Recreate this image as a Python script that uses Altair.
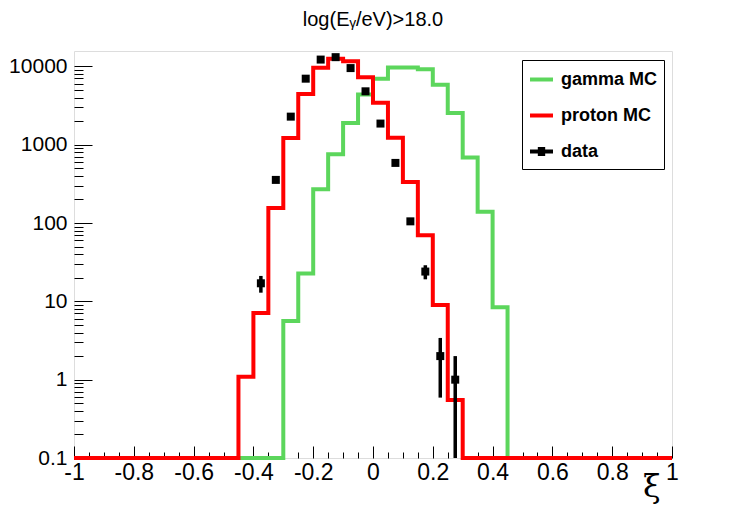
import altair as alt
import pandas as pd

# ---- data ----
bin_edges = [-1.0, -0.95, -0.9, -0.85, -0.8, -0.75, -0.7, -0.65, -0.6, -0.55,
             -0.5, -0.45, -0.4, -0.35, -0.3, -0.25, -0.2, -0.15, -0.1, -0.05,
             0.0, 0.05, 0.1, 0.15, 0.2, 0.25, 0.3, 0.35, 0.4, 0.45,
             0.5, 0.55, 0.6, 0.65, 0.7, 0.75, 0.8, 0.85, 0.9, 0.95, 1.0]

gamma_counts = [0, 0, 0, 0, 0, 0, 0, 0, 0, 0,
                0, 0, 0, 0, 5.6, 22.7, 270, 755, 1890, 4360,
                6960, 9700, 9700, 9160, 5840, 2540, 684, 139, 8.4, 0,
                0, 0, 0, 0, 0, 0, 0, 0, 0, 0]

proton_counts = [0, 0, 0, 0, 0, 0, 0, 0, 0, 0,
                 0, 1.09, 7.1, 156, 1218, 4433, 9620, 12540, 11580, 7240,
                 3440, 1230, 334, 69.8, 8.95, 0.55, 0, 0, 0, 0,
                 0, 0, 0, 0, 0, 0, 0, 0, 0, 0]

data_x = [-0.375, -0.325, -0.275, -0.225, -0.175, -0.125, -0.075, -0.025,
          0.025, 0.075, 0.125, 0.175, 0.225, 0.275]
data_counts = [17, 355, 2280, 6960, 12200, 13100, 9500, 4800, 1860, 585, 105, 24, 2, 1]
data_err = [4.1, 18.8, 47.7, 83.4, 110, 114, 97, 69, 43, 24, 10, 4.9, 1.41, 1.0]

series_names = ["gamma MC", "proton MC", "data"]
series_colors = ["#5cd65c", "#ff0000", "#000000"]

y_major = [0.1, 1, 10, 100, 1000, 10000]
y_ticks = [m * d for d in [0.1, 1, 10, 100, 1000] for m in range(1, 10)] + [10000]
x_major = [-1, -0.8, -0.6, -0.4, -0.2, 0, 0.2, 0.4, 0.6, 0.8, 1]

W, H = 598, 407
Y_DOMAIN = [0.1, 15700]
FONT = "Liberation Sans"


def hist_frame(counts, name):
    vals = list(counts) + [counts[-1]]
    return pd.DataFrame({"x": bin_edges, "v": vals, "series": name})


gamma_df = hist_frame(gamma_counts, "gamma MC")
proton_df = hist_frame(proton_counts, "proton MC")
data_df = pd.DataFrame({"x": data_x, "n": data_counts, "err": data_err})

xscale = alt.Scale(domain=[-1, 1], nice=False, zero=False)
yscale = alt.Scale(type="log", domain=Y_DOMAIN, nice=False)

x_label_axis = alt.Axis(
    orient="bottom", values=x_major, ticks=False, tickSize=0, domain=False, grid=False,
    labelExpr="toString(round(datum.value*10)/10)", labelFont=FONT, labelFontSize=23,
    labelColor="black", labelPadding=3, labelFlush=False, labelOverlap=False,
    title="ξ", titleFont="DejaVu Serif", titleFontSize=32, titleFontWeight="normal",
    titleColor="black", titleAnchor="end", titleAlign="right", titleBaseline="alphabetic",
    titleX=586, titleY=38,
)
y_label_axis = alt.Axis(
    orient="left", values=y_major, ticks=False, tickSize=0, domain=False, grid=False,
    labelExpr="toString(datum.value)", labelFont=FONT, labelFontSize=21,
    labelColor="black", labelPadding=7, labelFlush=False, labelOverlap=False, title=None,
)
x_tick_axis = alt.Axis(
    orient="top", offset=-H, values=bin_edges, labels=False, domain=False, grid=False,
    tickColor="black", tickWidth=1,
    tickSize={"condition": {"test": "abs(datum.value*5 - round(datum.value*5)) < 1e-6", "value": 12}, "value": 6},
    title=None,
)
y_tick_axis = alt.Axis(
    orient="right", offset=-W, values=y_ticks, labels=False, domain=False, grid=False,
    tickColor="black", tickWidth=1,
    tickSize={"condition": {"test": "abs(log(datum.value)/LN10 - round(log(datum.value)/LN10)) < 1e-6", "value": 18}, "value": 9},
    title=None,
)

gamma_line = alt.Chart(gamma_df).transform_calculate(
    vc="max(datum.v, 0.1)"
).mark_line(interpolate="step-after", strokeWidth=4, color=series_colors[0]).encode(
    x=alt.X("x:Q", scale=xscale, axis=x_label_axis),
    y=alt.Y("vc:Q", scale=yscale, axis=y_label_axis),
)

proton_line = alt.Chart(proton_df).transform_calculate(
    vc="max(datum.v, 0.1)"
).mark_line(interpolate="step-after", strokeWidth=4, color=series_colors[1]).encode(
    x=alt.X("x:Q", scale=xscale, axis=x_tick_axis),
    y=alt.Y("vc:Q", scale=yscale, axis=y_tick_axis),
)

err_bars = alt.Chart(data_df).transform_calculate(
    lo="max(datum.n - datum.err, 0.1)", hi="datum.n + datum.err"
).mark_rule(strokeWidth=3.5, color="black").encode(
    x=alt.X("x:Q", scale=xscale, axis=None),
    y=alt.Y("lo:Q", scale=yscale, axis=None),
    y2="hi:Q",
)

points = alt.Chart(data_df).mark_square(size=64, filled=True, color="black", opacity=1).encode(
    x=alt.X("x:Q", scale=xscale, axis=None),
    y=alt.Y("n:Q", scale=yscale, axis=None),
)

legend_df = pd.DataFrame({"series": series_names, "x": [0, 0, 0], "y": [1, 1, 1]})
line_sym = "M-1,0H1"
data_sym = "M-1,0H1M-0.32,-0.22H0.32M-0.32,0H0.32M-0.32,0.22H0.32"
legend_props = dict(
    orient="none", legendX=448, legendY=9, title=None,
    strokeColor="black", fillColor="white", padding=6,
    labelFont=FONT, labelFontSize=18, labelFontWeight="bold",
    labelColor="black", labelOffset=6, symbolSize=529,
    symbolStrokeWidth=4, rowPadding=13, labelLimit=300,
)
legend_layer = alt.Chart(legend_df).transform_filter("false").mark_point(
    filled=False, strokeWidth=4, opacity=1
).encode(
    x=alt.X("x:Q", scale=xscale, axis=None),
    y=alt.Y("y:Q", scale=yscale, axis=None),
    color=alt.Color("series:N", scale=alt.Scale(domain=series_names, range=series_colors),
                    legend=alt.Legend(**legend_props)),
    shape=alt.Shape("series:N", scale=alt.Scale(domain=series_names,
                                                range=[line_sym, line_sym, data_sym]),
                    legend=alt.Legend(**legend_props)),
)

chart = alt.layer(gamma_line, proton_line, err_bars, points, legend_layer).resolve_axis(
    x="independent", y="independent"
).properties(
    width=W, height=H,
    title=alt.TitleParams("log(Eᵧ/eV)>18.0", font=FONT, fontSize=20, fontWeight="normal",
                          color="black", anchor="middle", offset=21, frame="group"),
    padding={"left": 66, "top": 43, "right": 60, "bottom": 50},
    autosize=alt.AutoSizeParams(type="none"),
).configure_view(
    stroke="black", strokeWidth=1
).configure(background="white")

chart.save("out.html", embed_options={"renderer": "svg", "actions": False})
